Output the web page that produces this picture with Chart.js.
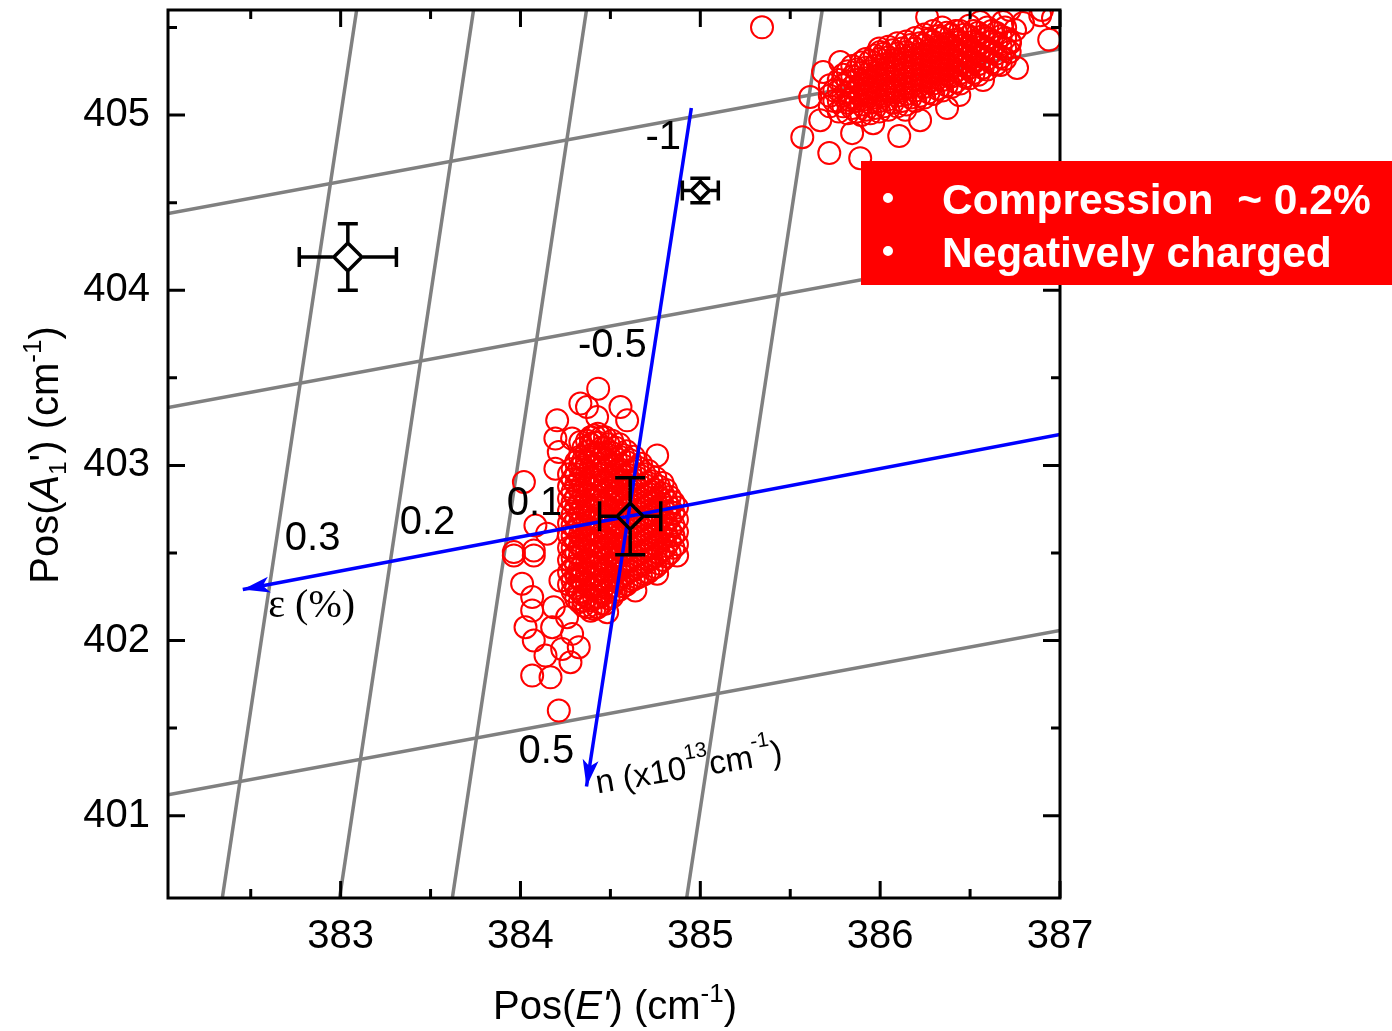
<!DOCTYPE html>
<html>
<head>
  <meta charset="UTF-8">
  <title>Pos(E') vs Pos(A1')</title>
  <script src="https://cdn.jsdelivr.net/npm/chart.js"></script>
  <style>
    body { margin: 0; background: #fff; }
    canvas { display: block; }
  </style>
</head>
<body>
  <canvas id="chart" width="1392" height="1031"></canvas>

  <script>
    // axis ticks
    const xTicks = [383, 384, 385, 386, 387];
    const yTicks = [401, 402, 403, 404, 405];
    const xMinor = [382.5, 383.5, 384.5, 385.5, 386.5];
    const yMinor = [401.5, 402.5, 403.5, 404.5, 405.5];

    // black reference points (diamonds) with error bars
    const refE = [383.04, 385.00, 384.61];
    const refA = [404.19, 404.57, 402.71];
    const refErrE = [0.27, 0.10, 0.17];
    const refErrA = [0.19, 0.07, 0.22];

    // grey iso-lines, endpoints [E, A]
    const isoStrain = [   // 0.3, 0.2, 0.1, -0.1
      [[383.089, 405.60], [382.342, 400.53]],
      [[383.739, 405.60], [382.994, 400.53]],
      [[384.367, 405.60], [383.621, 400.53]],
      [[385.678, 405.60], [384.924, 400.53]]
    ];
    const isoDoping = [   // -1, -0.5, 0.5
      [[382.04, 404.438], [387.0, 405.377]],
      [[382.04, 403.331], [387.0, 404.269]],
      [[382.04, 401.120], [387.0, 402.057]]
    ];
    // blue axes, from start to arrow tip
    const strainAxis = [[387.0, 403.177], [382.456, 402.291]];
    const dopingAxis = [[384.95, 405.04], [384.367, 401.166]];
    const gridLabels = ['-1', '-0.5', '0.1', '0.2', '0.3', '0.5'];

    // red cluster, upper right: [E, [A values]]
    const cluster1Cols = [
      [385.72, [405.05, 405.11, 405.17]],
      [385.745, [405.08, 405.14]],
      [385.77, [405.02, 405.08, 405.14, 405.20]],
      [385.795, [405.05, 405.11, 405.17, 405.23]],
      [385.82, [405.01, 405.07, 405.13, 405.19, 405.25]],
      [385.845, [405.04, 405.10, 405.16, 405.22, 405.28]],
      [385.87, [405.02, 405.08, 405.14, 405.20, 405.26]],
      [385.895, [405.00, 405.06, 405.12, 405.18, 405.24, 405.30]],
      [385.92, [405.03, 405.09, 405.15, 405.21, 405.27, 405.32]],
      [385.945, [405.01, 405.07, 405.13, 405.19, 405.25, 405.31]],
      [385.97, [405.04, 405.10, 405.16, 405.22, 405.28, 405.34]],
      [385.995, [405.02, 405.08, 405.14, 405.20, 405.26, 405.32, 405.38]],
      [386.02, [405.05, 405.11, 405.17, 405.23, 405.29, 405.35]],
      [386.045, [405.03, 405.09, 405.15, 405.21, 405.27, 405.33, 405.39]],
      [386.07, [405.07, 405.13, 405.19, 405.25, 405.31, 405.37]],
      [386.095, [405.05, 405.11, 405.17, 405.23, 405.29, 405.35, 405.41]],
      [386.12, [405.08, 405.14, 405.20, 405.26, 405.32, 405.38]],
      [386.145, [405.06, 405.12, 405.18, 405.24, 405.30, 405.36, 405.42]],
      [386.17, [405.10, 405.16, 405.22, 405.28, 405.34, 405.40]],
      [386.195, [405.08, 405.14, 405.20, 405.26, 405.32, 405.38, 405.44]],
      [386.22, [405.11, 405.17, 405.23, 405.29, 405.35, 405.41]],
      [386.245, [405.10, 405.16, 405.22, 405.28, 405.34, 405.40, 405.46]],
      [386.27, [405.13, 405.19, 405.25, 405.31, 405.37, 405.43]],
      [386.295, [405.12, 405.18, 405.24, 405.30, 405.36, 405.42, 405.48]],
      [386.32, [405.15, 405.21, 405.27, 405.33, 405.39, 405.45]],
      [386.345, [405.14, 405.20, 405.26, 405.32, 405.38, 405.44, 405.50]],
      [386.37, [405.17, 405.23, 405.29, 405.35, 405.41, 405.47]],
      [386.395, [405.16, 405.22, 405.28, 405.34, 405.40, 405.46]],
      [386.42, [405.19, 405.25, 405.31, 405.37, 405.43, 405.48]],
      [386.445, [405.18, 405.24, 405.30, 405.36, 405.42, 405.48]],
      [386.47, [405.22, 405.28, 405.34, 405.40, 405.46]],
      [386.495, [405.21, 405.27, 405.33, 405.39, 405.45, 405.51]],
      [386.52, [405.24, 405.30, 405.36, 405.42, 405.48]],
      [386.545, [405.23, 405.29, 405.35, 405.41, 405.47]],
      [386.57, [405.27, 405.33, 405.39, 405.45]],
      [386.595, [405.26, 405.32, 405.38, 405.44, 405.50]],
      [386.62, [405.30, 405.36, 405.42, 405.48]],
      [386.645, [405.29, 405.35, 405.41, 405.47]],
      [386.67, [405.33, 405.39, 405.45]],
      [386.695, [405.32, 405.38, 405.44, 405.50]],
      [386.72, [405.36, 405.42]]
    ];
    const cluster1Extra = [
      [385.567, 404.874], [385.717, 404.783], [385.889, 404.754], [386.106, 404.880],
      [385.844, 404.897], [385.667, 404.971], [385.611, 405.103], [385.683, 405.246],
      [385.778, 405.303], [386.000, 405.360], [386.261, 405.560], [386.556, 405.531],
      [386.683, 405.531], [386.794, 405.526], [386.961, 405.554], [386.761, 405.269],
      [386.572, 405.200], [386.722, 405.411], [386.372, 405.040], [386.222, 404.971],
      [385.961, 404.954], [385.343, 405.501], [386.720, 405.600], [386.900, 405.600],
      [386.890, 405.570], [386.750, 405.486], [386.580, 405.370], [386.940, 405.430],
      [386.670, 405.286], [386.440, 405.114], [386.140, 405.030], [385.830, 405.086],
      [386.060, 405.140]
    ];

    // red cluster, centre: [E, [A values]]
    const cluster2Cols = [
      [384.27, [402.32, 402.39, 402.46, 402.53, 402.60, 402.67, 402.74, 402.81, 402.88, 402.95]],
      [384.29, [402.28, 402.34, 402.41, 402.47, 402.53, 402.60, 402.66, 402.72, 402.79, 402.85, 402.92, 402.98]],
      [384.31, [402.24, 402.30, 402.37, 402.43, 402.50, 402.56, 402.63, 402.69, 402.76, 402.82, 402.89, 402.95, 403.02]],
      [384.33, [402.22, 402.28, 402.35, 402.41, 402.48, 402.54, 402.60, 402.67, 402.73, 402.79, 402.86, 402.92, 402.99, 403.05]],
      [384.35, [402.20, 402.26, 402.33, 402.39, 402.45, 402.52, 402.58, 402.65, 402.71, 402.77, 402.84, 402.90, 402.97, 403.03, 403.10]],
      [384.37, [402.19, 402.25, 402.32, 402.38, 402.44, 402.51, 402.57, 402.63, 402.70, 402.76, 402.83, 402.89, 402.95, 403.02, 403.08, 403.14]],
      [384.39, [402.17, 402.23, 402.30, 402.36, 402.42, 402.49, 402.55, 402.61, 402.68, 402.74, 402.80, 402.87, 402.93, 402.99, 403.06, 403.12, 403.16]],
      [384.41, [402.18, 402.24, 402.31, 402.37, 402.43, 402.50, 402.56, 402.62, 402.69, 402.75, 402.81, 402.88, 402.94, 403.00, 403.07, 403.13, 403.17]],
      [384.43, [402.19, 402.25, 402.31, 402.38, 402.44, 402.50, 402.57, 402.63, 402.69, 402.76, 402.82, 402.88, 402.95, 403.01, 403.07, 403.13, 403.18]],
      [384.45, [402.21, 402.28, 402.34, 402.40, 402.47, 402.53, 402.59, 402.66, 402.72, 402.78, 402.85, 402.91, 402.98, 403.04, 403.10, 403.16]],
      [384.47, [402.21, 402.27, 402.34, 402.40, 402.46, 402.53, 402.59, 402.65, 402.72, 402.78, 402.84, 402.91, 402.97, 403.03, 403.10, 403.16]],
      [384.49, [402.24, 402.30, 402.36, 402.43, 402.49, 402.55, 402.62, 402.68, 402.74, 402.81, 402.87, 402.93, 403.00, 403.06, 403.12]],
      [384.51, [402.25, 402.31, 402.37, 402.44, 402.50, 402.56, 402.63, 402.69, 402.75, 402.82, 402.88, 402.94, 403.01, 403.07, 403.14]],
      [384.53, [402.28, 402.34, 402.40, 402.47, 402.53, 402.59, 402.66, 402.72, 402.78, 402.85, 402.91, 402.97, 403.04, 403.10]],
      [384.55, [402.29, 402.35, 402.41, 402.48, 402.54, 402.60, 402.67, 402.73, 402.79, 402.86, 402.92, 402.98, 403.05, 403.12]],
      [384.57, [402.31, 402.37, 402.43, 402.50, 402.56, 402.62, 402.69, 402.75, 402.81, 402.88, 402.94, 403.00, 403.06]],
      [384.59, [402.32, 402.38, 402.45, 402.51, 402.57, 402.64, 402.70, 402.76, 402.83, 402.89, 402.95, 403.02, 403.08]],
      [384.61, [402.34, 402.40, 402.46, 402.53, 402.59, 402.65, 402.72, 402.78, 402.84, 402.91, 402.97, 403.03]],
      [384.63, [402.35, 402.41, 402.48, 402.54, 402.60, 402.67, 402.73, 402.79, 402.86, 402.92, 402.98, 403.05]],
      [384.65, [402.36, 402.42, 402.49, 402.55, 402.61, 402.68, 402.74, 402.80, 402.87, 402.93, 402.99]],
      [384.67, [402.37, 402.43, 402.50, 402.56, 402.62, 402.69, 402.75, 402.81, 402.88, 402.94, 403.01]],
      [384.69, [402.38, 402.44, 402.51, 402.57, 402.63, 402.70, 402.76, 402.82, 402.89, 402.95]],
      [384.71, [402.39, 402.46, 402.52, 402.58, 402.65, 402.71, 402.77, 402.84, 402.90, 402.97]],
      [384.73, [402.41, 402.47, 402.53, 402.60, 402.66, 402.72, 402.79, 402.85, 402.91]],
      [384.75, [402.42, 402.48, 402.55, 402.61, 402.67, 402.74, 402.80, 402.86, 402.93]],
      [384.77, [402.44, 402.50, 402.57, 402.63, 402.69, 402.76, 402.82, 402.88]],
      [384.79, [402.46, 402.52, 402.59, 402.65, 402.71, 402.78, 402.84, 402.90]],
      [384.81, [402.48, 402.54, 402.61, 402.67, 402.73, 402.80, 402.86]],
      [384.83, [402.50, 402.57, 402.63, 402.70, 402.76, 402.82]],
      [384.85, [402.53, 402.60, 402.66, 402.73, 402.79]],
      [384.87, [402.55, 402.62, 402.69, 402.76]]
    ];
    const cluster2Extra = [
      [384.432, 403.438], [384.333, 403.353], [384.370, 403.333], [384.556, 403.333],
      [384.204, 403.257], [384.426, 403.276], [384.593, 403.257], [384.194, 403.153],
      [384.287, 403.153], [384.333, 403.133], [384.213, 403.076], [384.194, 402.981],
      [384.343, 403.000], [384.019, 402.905], [384.083, 402.657], [384.148, 402.610],
      [384.760, 403.057], [383.963, 402.505], [384.074, 402.514], [383.963, 402.486],
      [384.074, 402.486], [384.009, 402.324], [384.065, 402.248], [384.065, 402.171],
      [384.028, 402.076], [384.176, 402.076], [384.074, 402.000], [384.139, 401.914],
      [384.232, 401.952], [384.324, 401.962], [384.278, 401.876], [384.065, 401.800],
      [384.167, 401.790], [384.213, 401.600], [384.639, 402.286], [384.760, 402.381],
      [384.871, 402.486], [384.482, 402.162], [384.287, 402.038], [384.185, 402.190],
      [384.259, 402.133], [384.352, 402.229], [384.426, 402.190], [384.222, 402.343],
      [384.315, 402.362]
    ];

    const SANS = '"Liberation Sans", Arial, sans-serif';
    const SERIF = '"Liberation Serif", "Times New Roman", serif';

    const toPts = arr => arr.map(p => ({ x: p[0], y: p[1] }));
    const colsToPts = cols => cols.flatMap(c => c[1].map(a => ({ x: c[0], y: a })));

    function richWidth(ctx, runs) {
      let w = 0;
      runs.forEach(r => { ctx.font = r.font; w += ctx.measureText(r.t).width; });
      return w;
    }
    function drawRich(ctx, runs, x, y) {
      let cx = x;
      runs.forEach(r => {
        ctx.font = r.font;
        ctx.fillText(r.t, cx, y + (r.dy || 0));
        cx += ctx.measureText(r.t).width;
      });
    }

    function arrowHead(ctx, xs, ys, seg, len, half) {
      const x0 = xs.getPixelForValue(seg[0][0]), y0 = ys.getPixelForValue(seg[0][1]);
      const x1 = xs.getPixelForValue(seg[1][0]), y1 = ys.getPixelForValue(seg[1][1]);
      const d = Math.hypot(x1 - x0, y1 - y0);
      const ux = (x1 - x0) / d, uy = (y1 - y0) / d;
      const bx = x1 - ux * len, by = y1 - uy * len;
      ctx.beginPath();
      ctx.moveTo(x1, y1);
      ctx.lineTo(bx - uy * half, by + ux * half);
      ctx.lineTo(x1 - ux * len * 0.75, y1 - uy * len * 0.75);
      ctx.lineTo(bx + uy * half, by - ux * half);
      ctx.closePath();
      ctx.fillStyle = '#0000ff';
      ctx.fill();
    }

    const markerRadius = [14, 9, 13];
    const capHalf = [10, 10, 15];

    const decor = {
      id: 'decor',
      afterDatasetsDraw(chart) {
        const { ctx, scales: { x, y } } = chart;
        ctx.save();

        arrowHead(ctx, x, y, strainAxis, 27, 8);
        arrowHead(ctx, x, y, dopingAxis, 27, 8);

        // error bars
        ctx.strokeStyle = '#000';
        ctx.lineWidth = 3.5;
        refE.forEach((e, i) => {
          const cx = x.getPixelForValue(e), cy = y.getPixelForValue(refA[i]);
          const x0 = x.getPixelForValue(e - refErrE[i]), x1 = x.getPixelForValue(e + refErrE[i]);
          const y0 = y.getPixelForValue(refA[i] + refErrA[i]), y1 = y.getPixelForValue(refA[i] - refErrA[i]);
          const r = markerRadius[i] + 1, c = capHalf[i];
          ctx.beginPath();
          ctx.moveTo(x0, cy); ctx.lineTo(cx - r, cy);
          ctx.moveTo(cx + r, cy); ctx.lineTo(x1, cy);
          ctx.moveTo(cx, y0); ctx.lineTo(cx, cy - r);
          ctx.moveTo(cx, cy + r); ctx.lineTo(cx, y1);
          ctx.moveTo(x0, cy - c); ctx.lineTo(x0, cy + c);
          ctx.moveTo(x1, cy - c); ctx.lineTo(x1, cy + c);
          ctx.moveTo(cx - c, y0); ctx.lineTo(cx + c, y0);
          ctx.moveTo(cx - c, y1); ctx.lineTo(cx + c, y1);
          ctx.stroke();
        });

        // grid value labels
        const labelPos = [[384.794, 404.88], [384.511, 403.691], [384.078, 402.789],
                          [383.483, 402.68], [382.844, 402.594], [384.144, 401.377]];
        ctx.fillStyle = '#000';
        ctx.textAlign = 'center';
        ctx.textBaseline = 'middle';
        ctx.font = '40px ' + SANS;
        gridLabels.forEach((t, i) => {
          ctx.fillText(t, x.getPixelForValue(labelPos[i][0]), y.getPixelForValue(labelPos[i][1]) + 2);
        });
        ctx.font = '40px ' + SERIF;
        ctx.fillText('\u03b5 (%)', x.getPixelForValue(382.839), y.getPixelForValue(402.194));

        // n axis label, rotated
        ctx.textAlign = 'left';
        ctx.textBaseline = 'alphabetic';
        ctx.translate(x.getPixelForValue(384.428), y.getPixelForValue(401.126));
        ctx.rotate(-9.5 * Math.PI / 180);
        drawRich(ctx, [
          { t: 'n (x10', font: '33px ' + SANS },
          { t: '13', font: '21px ' + SANS, dy: -19 },
          { t: 'cm', font: '33px ' + SANS },
          { t: '-1', font: '21px ' + SANS, dy: -19 },
          { t: ')', font: '33px ' + SANS }
        ], 0, 0);
        ctx.restore();
      },
      afterDraw(chart) {
        const { ctx, chartArea: a, scales: { x, y } } = chart;
        ctx.save();

        // frame with inward ticks on all sides
        ctx.strokeStyle = '#000';
        ctx.lineWidth = 3;
        ctx.strokeRect(a.left, a.top, a.right - a.left, a.bottom - a.top);
        ctx.beginPath();
        const xt = (vals, len) => vals.forEach(v => {
          const p = x.getPixelForValue(v);
          ctx.moveTo(p, a.bottom); ctx.lineTo(p, a.bottom - len);
          ctx.moveTo(p, a.top); ctx.lineTo(p, a.top + len);
        });
        const yt = (vals, len) => vals.forEach(v => {
          const p = y.getPixelForValue(v);
          ctx.moveTo(a.left, p); ctx.lineTo(a.left + len, p);
          ctx.moveTo(a.right, p); ctx.lineTo(a.right - len, p);
        });
        xt(xTicks, 17); xt(xMinor, 9);
        yt(yTicks, 17); yt(yMinor, 9);
        ctx.stroke();

        // axis titles
        ctx.fillStyle = '#000';
        ctx.textAlign = 'left';
        ctx.textBaseline = 'alphabetic';
        const xRuns = [
          { t: 'Pos(', font: '40px ' + SANS },
          { t: "E'", font: 'italic 40px ' + SANS },
          { t: ') (cm', font: '40px ' + SANS },
          { t: '-1', font: '26px ' + SANS, dy: -17 },
          { t: ')', font: '40px ' + SANS }
        ];
        drawRich(ctx, xRuns, 615 - richWidth(ctx, xRuns) / 2, 1019);

        const yRuns = [
          { t: 'Pos(', font: '40px ' + SANS },
          { t: 'A', font: 'italic 40px ' + SANS },
          { t: '1', font: '24px ' + SANS, dy: 8 },
          { t: "') (cm", font: '40px ' + SANS },
          { t: '-1', font: '26px ' + SANS, dy: -17 },
          { t: ')', font: '40px ' + SANS }
        ];
        ctx.save();
        ctx.translate(58, 455);
        ctx.rotate(-Math.PI / 2);
        drawRich(ctx, yRuns, -richWidth(ctx, yRuns) / 2, 0);
        ctx.restore();

        // red annotation box
        ctx.fillStyle = '#ff0000';
        ctx.fillRect(861, 161, 1392 - 861, 124);
        ctx.fillStyle = '#fff';
        ctx.beginPath();
        ctx.arc(888, 198, 5, 0, Math.PI * 2);
        ctx.arc(888, 251, 5, 0, Math.PI * 2);
        ctx.fill();
        ctx.font = 'bold 42.5px ' + SANS;
        ctx.fillText('Compression  ~ 0.2%', 942, 214);
        ctx.fillText('Negatively charged', 942, 267);

        ctx.restore();
      }
    };

    const lineSet = (seg, color, order) => ({
      data: toPts(seg), showLine: true, borderColor: color, borderWidth: 3.5,
      pointRadius: 0, order: order
    });

    // the first dataset is drawn on top
    const datasets = [
      {
        data: toPts(refE.map((e, i) => [e, refA[i]])),
        pointStyle: 'rectRot', pointRadius: markerRadius,
        pointBorderColor: '#000', pointBackgroundColor: 'rgba(0,0,0,0)',
        pointBorderWidth: 3.5, order: 0
      },
      lineSet(strainAxis, '#0000ff', 1),
      lineSet(dopingAxis, '#0000ff', 1),
      {
        data: colsToPts(cluster1Cols).concat(toPts(cluster1Extra)),
        pointRadius: 11, pointBorderColor: '#ff0000',
        pointBackgroundColor: 'rgba(0,0,0,0)', pointBorderWidth: 2, order: 2
      },
      {
        data: colsToPts(cluster2Cols).concat(toPts(cluster2Extra)),
        pointRadius: 11, pointBorderColor: '#ff0000',
        pointBackgroundColor: 'rgba(0,0,0,0)', pointBorderWidth: 2, order: 2
      }
    ].concat(isoStrain.map(s => lineSet(s, '#808080', 3)))
     .concat(isoDoping.map(s => lineSet(s, '#808080', 3)));

    new Chart(document.getElementById('chart').getContext('2d'), {
      type: 'scatter',
      data: { datasets: datasets },
      options: {
        responsive: false,
        animation: false,
        events: [],
        layout: { autoPadding: false, padding: { top: 10, right: 332, left: 0, bottom: 0 } },
        plugins: { legend: { display: false }, tooltip: { enabled: false } },
        scales: {
          x: {
            type: 'linear', min: 382.04, max: 387,
            grid: { display: false }, border: { display: false },
            afterBuildTicks: s => { s.ticks = xTicks.map(v => ({ value: v })); },
            afterFit: s => { s.height = 133; s.paddingLeft = 0; s.paddingRight = 0; },
            ticks: { font: { family: SANS, size: 40 }, color: '#000', padding: 7 }
          },
          y: {
            type: 'linear', min: 400.53, max: 405.6,
            grid: { display: false }, border: { display: false },
            afterBuildTicks: s => { s.ticks = yTicks.map(v => ({ value: v })); },
            afterFit: s => { s.width = 168; s.paddingTop = 0; s.paddingBottom = 0; },
            ticks: { font: { family: SANS, size: 40 }, color: '#000', padding: 10 }
          }
        }
      },
      plugins: [decor]
    });
  </script>
</body>
</html>
